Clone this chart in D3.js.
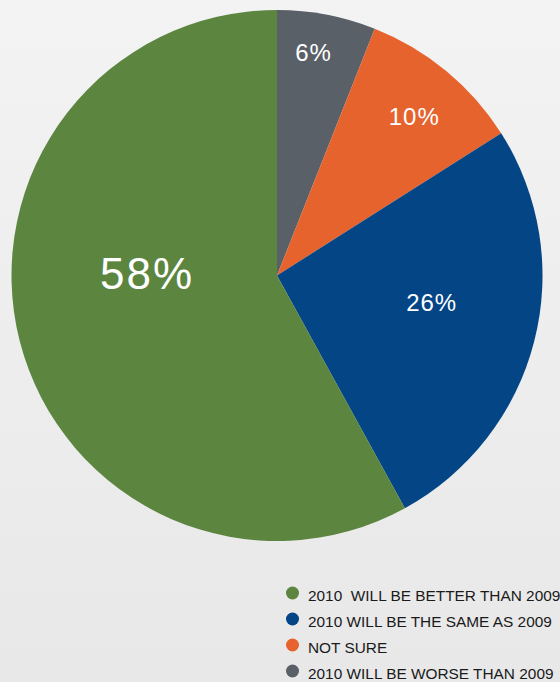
<!DOCTYPE html>
<html>
<head>
<meta charset="utf-8">
<title>2010 outlook</title>
<script src="https://d3js.org/d3.v7.min.js"></script>
<style type="text/css">
	body{
		margin:0;
		padding:0;
	}
	.pct{
		fill:white;
		font-family:"Liberation Sans", Arial, sans-serif;
		text-anchor:middle;
	}
	.legendText{
		fill:#1a1a1a;
		font-family:"Liberation Sans", Arial, sans-serif;
		font-size:15.4px;
		white-space:pre;
	}
</style>
</head>
<body>
<svg id="chart" width="560" height="682"></svg>
<script>
// data, clockwise from 12 o'clock
var categories = ["2010 WILL BE WORSE THAN 2009", "NOT SURE", "2010 WILL BE THE SAME AS 2009", "2010  WILL BE BETTER THAN 2009"];
var values = [6, 10, 26, 58];
var pctLabels = ["6%", "10%", "26%", "58%"];
var legendOrder = [3, 2, 1, 0];

// look
var colors = ["#5a6067", "#e6632e", "#034585", "#5c8540"];
var labelSize = [24, 24, 24, 44];
var labelPolar = [[226, 9.3], [210, 40.8], [157, 99.9], [130, 270.9]]; // radius, degrees from top

var svg = d3.select("#chart");
var width = +svg.attr("width");
var height = +svg.attr("height");

var defs = svg.append("defs");
var grad = defs.append("linearGradient")
	.attr("id", "bg")
	.attr("x1", 0).attr("y1", 0)
	.attr("x2", 0).attr("y2", 1);
grad.append("stop").attr("offset", "0%").attr("stop-color", "#f3f3f3");
grad.append("stop").attr("offset", "100%").attr("stop-color", "#e8e8e8");

svg.append("rect")
	.attr("width", width)
	.attr("height", height)
	.attr("fill", "url(#bg)");

var cx = 277, cy = 275.5, radius = 265.5;

var pie = d3.pie().sort(null).value(function(d){ return d; });
var arc = d3.arc().innerRadius(0).outerRadius(radius);
var slices = pie(values);

var g = svg.append("g").attr("transform", "translate(" + cx + "," + cy + ")");

g.selectAll("path.slice")
	.data(slices)
	.enter()
	.append("path")
	.attr("class", "slice")
	.attr("d", arc)
	.attr("fill", function(d, i){ return colors[i]; });

g.selectAll("text.pct")
	.data(slices)
	.enter()
	.append("text")
	.attr("class", "pct")
	.attr("x", function(d, i){ return labelPolar[i][0] * Math.sin(labelPolar[i][1] * Math.PI / 180); })
	.attr("y", function(d, i){ return -labelPolar[i][0] * Math.cos(labelPolar[i][1] * Math.PI / 180) + labelSize[i] * 0.36; })
	.style("font-size", function(d, i){ return labelSize[i] + "px"; })
	.style("letter-spacing", function(d, i){ return i == 3 ? "2px" : "1px"; })
	.text(function(d, i){ return pctLabels[i]; });

// legend
var legendY = d3.scalePoint()
	.domain(legendOrder)
	.range([594, 672]);

var legend = svg.append("g");
var rows = legend.selectAll("g")
	.data(legendOrder)
	.enter()
	.append("g")
	.attr("transform", function(d){ return "translate(0," + legendY(d) + ")"; });

rows.append("circle")
	.attr("cx", 292.5)
	.attr("cy", -1)
	.attr("r", 6.5)
	.attr("fill", function(d){ return colors[d]; });

rows.append("text")
	.attr("class", "legendText")
	.attr("x", 308)
	.attr("y", 7)
	.text(function(d){ return categories[d]; });
</script>
</body>
</html>
